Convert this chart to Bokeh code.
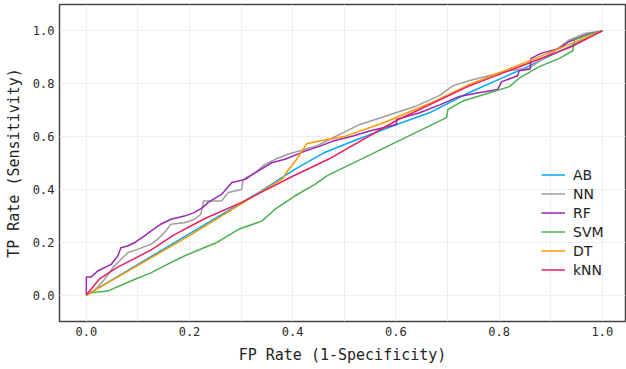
from bokeh.plotting import figure
from bokeh.models import FixedTicker, Range1d, PrintfTickFormatter
from bokeh.embed import file_html
from bokeh.resources import INLINE

# ---- data ----
ab_fpr = [0.0, 0.34, 0.404, 0.462, 0.52, 0.60, 0.665, 0.74, 0.85, 1.0]
ab_tpr = [0.0, 0.395, 0.476, 0.540, 0.585, 0.645, 0.690, 0.765, 0.860, 1.0]

nn_fpr = [0.0, 0.006, 0.015, 0.035, 0.054, 0.067, 0.080, 0.099, 0.125, 0.138, 0.151,
          0.164, 0.190, 0.209, 0.222, 0.227, 0.262, 0.275, 0.301, 0.304, 0.327,
          0.346, 0.366, 0.391, 0.424, 0.446, 0.472, 0.498, 0.530, 0.575, 0.607,
          0.640, 0.685, 0.710, 0.743, 0.820, 0.859, 0.910, 0.936, 0.968, 1.0]
nn_tpr = [0.0, 0.010, 0.015, 0.059, 0.110, 0.135, 0.160, 0.173, 0.192, 0.211, 0.236,
          0.268, 0.274, 0.286, 0.306, 0.356, 0.356, 0.388, 0.400, 0.438, 0.463,
          0.495, 0.514, 0.533, 0.552, 0.564, 0.590, 0.615, 0.646, 0.674, 0.695,
          0.716, 0.756, 0.792, 0.812, 0.850, 0.859, 0.928, 0.966, 0.991, 1.0]

rf_fpr = [0.0, 0.0, 0.009, 0.022, 0.048, 0.061, 0.067, 0.080, 0.093, 0.112, 0.125,
          0.144, 0.164, 0.190, 0.209, 0.225, 0.237, 0.262, 0.282, 0.308, 0.327,
          0.359, 0.385, 0.424, 0.453, 0.478, 0.517, 0.549, 0.601, 0.601, 0.646,
          0.685, 0.723, 0.758, 0.797, 0.805, 0.836, 0.839, 0.860, 0.862, 0.881,
          0.917, 0.936, 0.968, 1.0]
rf_tpr = [0.0, 0.068, 0.068, 0.091, 0.116, 0.148, 0.179, 0.186, 0.198, 0.223, 0.242,
          0.268, 0.287, 0.299, 0.312, 0.331, 0.352, 0.381, 0.426, 0.438, 0.463,
          0.501, 0.514, 0.545, 0.564, 0.583, 0.602, 0.621, 0.646, 0.665, 0.690,
          0.720, 0.752, 0.765, 0.778, 0.808, 0.830, 0.850, 0.855, 0.896, 0.915,
          0.934, 0.960, 0.985, 1.0]

svm_fpr = [0.0, 0.009, 0.041, 0.093, 0.125, 0.157, 0.190, 0.228, 0.250, 0.295, 0.340,
           0.366, 0.404, 0.443, 0.466, 0.698, 0.701, 0.730, 0.788, 0.820, 0.839,
           0.878, 0.917, 0.943, 0.946, 0.981, 1.0]
svm_tpr = [0.0, 0.009, 0.015, 0.059, 0.084, 0.116, 0.148, 0.179, 0.196, 0.249, 0.280,
           0.325, 0.375, 0.419, 0.451, 0.672, 0.703, 0.735, 0.770, 0.789, 0.821,
           0.865, 0.896, 0.925, 0.966, 0.991, 1.0]

dt_fpr = [0.0, 0.20, 0.38, 0.39, 0.41, 0.427, 0.456, 0.50, 0.58, 0.665, 0.74, 0.85, 1.0]
dt_tpr = [0.0, 0.225, 0.440, 0.470, 0.520, 0.573, 0.585, 0.600, 0.655, 0.725, 0.795, 0.880, 1.0]

knn_fpr = [0.0, 0.025, 0.06, 0.125, 0.17, 0.23, 0.30, 0.40, 0.47, 0.60, 0.74, 0.94, 1.0]
knn_tpr = [0.0, 0.060, 0.105, 0.170, 0.228, 0.290, 0.350, 0.450, 0.515, 0.660, 0.790, 0.940, 1.0]

series = [
    ("AB", ab_fpr, ab_tpr, "#03a9f4"),
    ("NN", nn_fpr, nn_tpr, "#9e9e9e"),
    ("RF", rf_fpr, rf_tpr, "#9c27b0"),
    ("SVM", svm_fpr, svm_tpr, "#4caf50"),
    ("DT", dt_fpr, dt_tpr, "#ff9800"),
    ("kNN", knn_fpr, knn_tpr, "#e91e63"),
]

x_ticks = [0.0, 0.2, 0.4, 0.6, 0.8, 1.0]
y_ticks = [0.0, 0.2, 0.4, 0.6, 0.8, 1.0]
x_grid = [0.0, 0.1, 0.2, 0.3, 0.4, 0.5, 0.6, 0.7, 0.8, 0.9, 1.0]

p = figure(width=626, height=369, output_backend="svg", toolbar_location=None,
           x_range=Range1d(-0.052, 1.045), y_range=Range1d(-0.1, 1.1),
           min_border_left=59, min_border_right=1, min_border_top=4, min_border_bottom=48)

for name, xs, ys, col in series:
    p.line(xs, ys, line_color=col, line_width=1.5, legend_label=name)

mono = "DejaVu Sans Mono"
for ax in (p.xaxis[0], p.yaxis[0]):
    ax.major_label_text_font = mono
    ax.major_label_text_font_size = "12px"
    ax.major_label_text_color = "#2a2a2a"
    ax.axis_label_text_font = mono
    ax.axis_label_text_font_size = "15px"
    ax.axis_label_text_font_style = "normal"
    ax.axis_label_text_color = "#222222"
    ax.axis_line_color = None
    ax.major_tick_line_color = None
    ax.minor_tick_line_color = None
    ax.major_tick_out = 0
    ax.major_tick_in = 0
    ax.major_label_standoff = 5
    ax.axis_label_standoff = 7
    ax.formatter = PrintfTickFormatter(format="%.1f")

p.xaxis[0].ticker = FixedTicker(ticks=x_ticks)
p.yaxis[0].ticker = FixedTicker(ticks=y_ticks)
p.xaxis[0].axis_label = "FP Rate (1-Specificity)"
p.yaxis[0].axis_label = "TP Rate (Sensitivity)"

p.xgrid[0].ticker = FixedTicker(ticks=x_grid)
p.ygrid[0].ticker = FixedTicker(ticks=y_ticks)
p.xgrid.grid_line_color = "#eeeeee"
p.ygrid.grid_line_color = "#eeeeee"

p.outline_line_color = "#444444"
p.outline_line_width = 1.5
p.background_fill_color = "white"
p.border_fill_color = "white"

lg = p.legend[0]
lg.location = (482, 42)
lg.padding = 0
lg.margin = 0
lg.spacing = 0
lg.glyph_width = 24
lg.glyph_height = 19
lg.label_height = 19
lg.label_standoff = 8
lg.label_text_font = "DejaVu Sans"
lg.label_text_font_size = "14px"
lg.label_text_color = "#222222"
lg.background_fill_alpha = 0
lg.border_line_color = None

open("out.html", "w").write(file_html(p, INLINE))
